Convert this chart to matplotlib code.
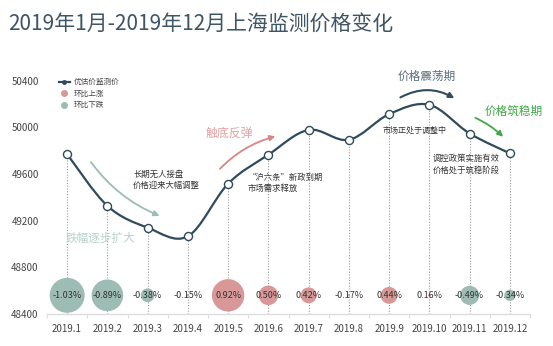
import numpy as np
import matplotlib
matplotlib.use("Agg")
import matplotlib.pyplot as plt
from matplotlib.path import Path
from matplotlib.patches import PathPatch
from matplotlib.lines import Line2D

plt.rcParams['font.family'] = ['Noto Sans CJK SC', 'DejaVu Sans']

months = ['2019.1', '2019.2', '2019.3', '2019.4', '2019.5', '2019.6',
          '2019.7', '2019.8', '2019.9', '2019.10', '2019.11', '2019.12']
prices = [49770, 49327, 49140, 49066, 49517, 49765,
          49978, 49893, 50113, 50193, 49947, 49777]
mom_change = [-1.03, -0.89, -0.38, -0.15, 0.92, 0.50,
              0.42, -0.17, 0.44, 0.16, -0.49, -0.34]
y_ticks = [48400, 48800, 49200, 49600, 50000, 50400]

LINE = '#2f4b5c'
UP = '#d99898'
DOWN = '#9dbcb3'
BUBBLE_Y = 48560


def smooth_path(xs, ys):
    # Catmull-Rom spline through the points, written as cubic Bezier segments
    pts = np.column_stack([xs, ys]).astype(float)
    ext = np.vstack([pts[0], pts, pts[-1]])
    verts = [pts[0]]
    codes = [Path.MOVETO]
    for i in range(1, len(ext) - 2):
        p0, p1, p2, p3 = ext[i - 1], ext[i], ext[i + 1], ext[i + 2]
        verts += [p1 + (p2 - p0) / 6, p2 - (p3 - p1) / 6, p2]
        codes += [Path.CURVE4] * 3
    return Path(verts, codes)


fig = plt.figure(figsize=(5.53, 3.46), dpi=100)
ax = fig.add_axes([47 / 553, 32 / 346, 483 / 553, 245 / 346])

x = np.arange(len(months))

# dotted guides from each point down to the axis
for xi, p in zip(x, prices):
    ax.plot([xi, xi], [48400, p], color='#9a9a9a', lw=0.8, ls=(0, (1, 1.5)), zorder=1)

# month-on-month bubbles
sizes = [(0.72 * np.sqrt(1590 * max(abs(v) - 0.26, 0.004))) ** 2 for v in mom_change]
colors = [UP if v > 0 else DOWN for v in mom_change]
ax.scatter(x, [BUBBLE_Y] * len(x), s=sizes, c=colors, zorder=2, linewidths=0)
for xi, v in zip(x, mom_change):
    ax.text(xi, BUBBLE_Y, '%.2f%%' % v, ha='center', va='center', fontsize=6.5,
            color='#333333', zorder=4)

# price line
ax.add_patch(PathPatch(smooth_path(x, prices), fill=False, edgecolor=LINE, lw=1.6, zorder=3))
ax.plot(x, prices, ls='none', marker='o', ms=5.8, mfc='white', mec=LINE, mew=1.0, zorder=5)

ax.set_xlim(-0.5, len(months) - 0.5)
ax.set_ylim(48400, 50500)
ax.set_yticks(y_ticks)
ax.set_xticks(x)
ax.set_xticklabels(months)
ax.set_xticks(np.arange(-0.5, len(months), 1), minor=True)
ax.tick_params(axis='y', length=0, labelsize=7, labelcolor='#444444', pad=6)
ax.tick_params(axis='x', which='major', length=0, labelsize=7, labelcolor='#444444', pad=7)
ax.tick_params(axis='x', which='minor', length=3, color='#dddddd', width=0.8)
for side in ['top', 'right', 'left']:
    ax.spines[side].set_visible(False)
ax.spines['bottom'].set_color('#dddddd')
ax.spines['bottom'].set_linewidth(1.0)

# legend
handles = [
    Line2D([], [], color=LINE, lw=1.6, marker='o', ms=2.5, mfc=LINE, mec=LINE),
    Line2D([], [], ls='none', marker='o', ms=4, mfc=UP, mec=UP),
    Line2D([], [], ls='none', marker='o', ms=4, mfc=DOWN, mec=DOWN),
]
ax.legend(handles, ['优估价监测价', '环比上涨', '环比下跌'], loc='upper left',
          bbox_to_anchor=(0.01, 0.99), frameon=False, fontsize=5.5, handlelength=1.5,
          handletextpad=0.5, labelspacing=0.45, labelcolor='#444444')

# annotations
ax.text(1.64, 49546, '长期无人接盘\n价格迎来大幅调整', fontsize=6, color='#333333',
        ha='left', va='center', linespacing=1.3)
ax.annotate('', xy=(2.36, 49233), xytext=(0.55, 49722),
            arrowprops=dict(arrowstyle='-|>', color=DOWN, lw=1.3, mutation_scale=8,
                            connectionstyle='arc3,rad=0.15'))
ax.text(-0.05, 49052, '跌幅逐步扩大', fontsize=8.4, color='#b7d1c9', ha='left', va='center')

ax.text(3.43, 49954, '触底反弹', fontsize=8.6, color='#e6a2a2', ha='left', va='center')
ax.annotate('', xy=(5.24, 49928), xytext=(3.75, 49627),
            arrowprops=dict(arrowstyle='-|>', color='#d98585', lw=1.3, mutation_scale=8,
                            connectionstyle='arc3,rad=-0.15'))
ax.text(4.49, 49524, '“沪六条”新政到期\n市场需求释放', fontsize=6, color='#333333',
        ha='left', va='center', linespacing=1.3)

ax.text(7.85, 49979, '市场正处于调整中', fontsize=5.8, color='#333333', ha='left', va='center')
ax.text(8.94, 50434, '价格震荡期', fontsize=8.4, color='#5a6e7c', ha='center', va='center')
ax.annotate('', xy=(9.68, 50237), xytext=(8.22, 50245),
            arrowprops=dict(arrowstyle='-|>', color=LINE, lw=1.5, mutation_scale=8,
                            connectionstyle='arc3,rad=-0.3'))

ax.text(9.09, 49683, '调控政策实施有效\n价格处于筑稳阶段', fontsize=6, color='#333333',
        ha='left', va='center', linespacing=1.3)
ax.text(11.1, 50134, '价格筑稳期', fontsize=8.4, color='#3daa47', ha='center', va='center')
ax.annotate('', xy=(10.88, 49902), xytext=(10.08, 50091),
            arrowprops=dict(arrowstyle='-|>', color='#3daa47', lw=1.3, mutation_scale=8,
                            connectionstyle='arc3,rad=-0.1'))

fig.text(8 / 553, 1 - 24 / 346, '2019年1月-2019年12月上海监测价格变化', fontsize=15,
         color='#3e5566', ha='left', va='center')

fig.savefig('out.png', dpi=100)
